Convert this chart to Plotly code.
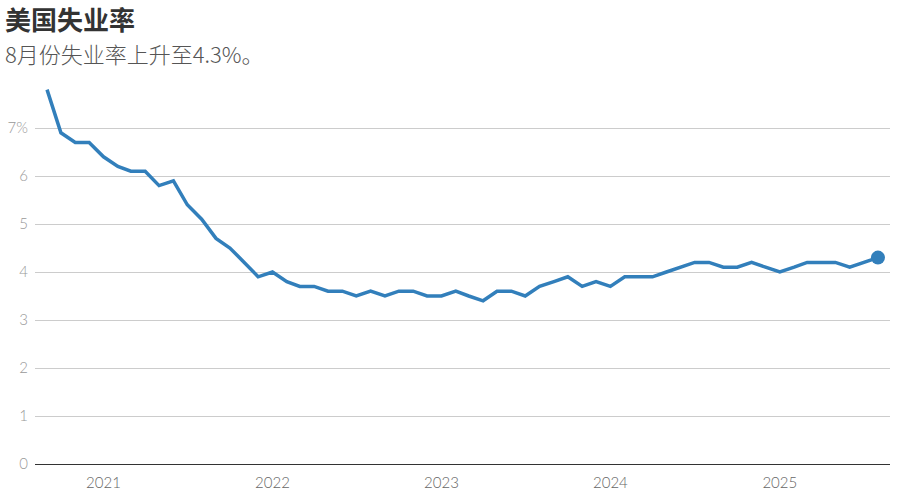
import plotly.graph_objects as go
import pandas as pd

months = pd.date_range("2020-09-01", "2025-08-01", freq="MS")
rates = [7.8, 6.9, 6.7, 6.7,
         6.4, 6.2, 6.1, 6.1, 5.8, 5.9, 5.4, 5.1, 4.7, 4.5, 4.2, 3.9,
         4.0, 3.8, 3.7, 3.7, 3.6, 3.6, 3.5, 3.6, 3.5, 3.6, 3.6, 3.5,
         3.5, 3.6, 3.5, 3.4, 3.6, 3.6, 3.5, 3.7, 3.8, 3.9, 3.7, 3.8,
         3.7, 3.9, 3.9, 3.9, 4.0, 4.1, 4.2, 4.2, 4.1, 4.1, 4.2, 4.1,
         4.0, 4.1, 4.2, 4.2, 4.2, 4.1, 4.2, 4.3]
y_tickvals = [0, 1, 2, 3, 4, 5, 6, 7]
y_ticktext = ["0", "1", "2", "3", "4", "5", "6", "7%"]
x_tickvals = ["2021-01-01", "2022-01-01", "2023-01-01", "2024-01-01", "2025-01-01"]
x_ticktext = ["2021", "2022", "2023", "2024", "2025"]

title = "美国失业率"
subtitle = "8月份失业率上升至4.3%。"

color = "#327fbb"
fig = go.Figure()
fig.add_trace(go.Scatter(x=months, y=rates, mode="lines",
                         line=dict(color=color, width=3.5), hoverinfo="skip"))
fig.add_trace(go.Scatter(x=[months[-1]], y=[rates[-1]], mode="markers",
                         marker=dict(color=color, size=14), hoverinfo="skip",
                         cliponaxis=False))

fig.update_layout(
    width=899, height=495,
    margin=dict(l=35, r=9, t=80, b=31, autoexpand=False),
    paper_bgcolor="white", plot_bgcolor="white",
    showlegend=False,
    font=dict(family="Lato, 'Noto Sans CJK SC', sans-serif"),
    xaxis=dict(range=["2020-08-06", "2025-08-27"], tickvals=x_tickvals, ticktext=x_ticktext,
               showgrid=False, zeroline=False, showline=False, ticks="", automargin=False,
               tickfont=dict(size=15, color="#666666", weight=300), ticklabelstandoff=8),
    yaxis=dict(range=[0, 8], tickvals=y_tickvals, ticktext=y_ticktext,
               showgrid=True, gridcolor="#cccccc", gridwidth=1, automargin=False,
               zeroline=True, zerolinecolor="#333333", zerolinewidth=1.2,
               ticks="", tickfont=dict(size=15, color="#999999", weight=300), ticklabelstandoff=6),
    annotations=[
        dict(text="<b>" + title + "</b>", xref="paper", yref="paper",
             x=-0.037, y=(464 - 18) / 384, xanchor="left", yanchor="middle", showarrow=False,
             font=dict(size=26, color="#333333", family="'Noto Sans CJK SC', sans-serif")),
        dict(text=subtitle, xref="paper", yref="paper",
             x=-0.037, y=(464 - 53) / 384, xanchor="left", yanchor="middle", showarrow=False,
             font=dict(size=22, color="#555555", weight=300,
                       family="'Noto Sans CJK SC', sans-serif")),
    ],
)
fig.write_html("out.html", config={"displayModeBar": False},
               post_script="document.body.style.margin='0';document.body.style.overflow='hidden';")
